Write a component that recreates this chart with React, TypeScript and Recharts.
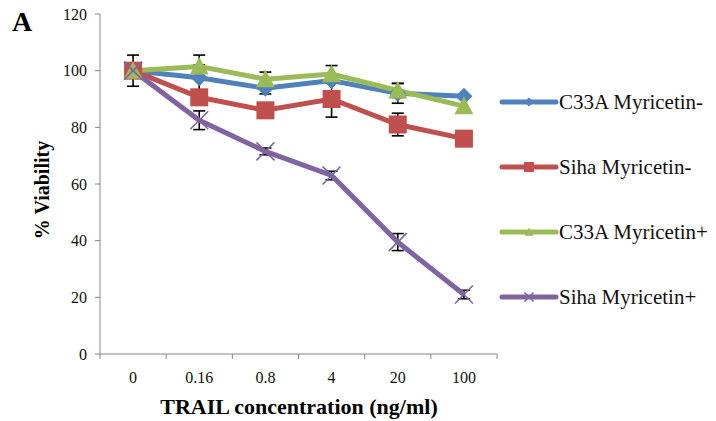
import React from 'react';
import { LineChart, Line, XAxis, YAxis, ErrorBar, Legend } from 'recharts';

const concentrations = ['0', '0.16', '0.8', '4', '20', '100'];

const c33aMinus = [100, 97.5, 93.8, 96.5, 92, 91];
const sihaMinus = [100, 90.6, 86, 90, 81, 76];
const c33aPlus = [100, 101.5, 97, 98.8, 93, 87.5];
const sihaPlus = [100, 82.5, 71.5, 63, 39.5, 21];

const c33aMinusErr = [5.5, 4.5, 2, null, 3.5, null];
const sihaMinusErr = [null, 2, null, 6.4, 4, null];
const c33aPlusErr = [null, 4, 2.5, 3, 2.5, null];
const sihaPlusErr = [null, 3.3, 1.2, 1.5, 3, 1.5];

const yTicks = [0, 20, 40, 60, 80, 100, 120];

const BLUE = '#4F81BD';
const RED = '#C0504D';
const GREEN = '#9BBB59';
const PURPLE = '#8064A2';
const AXIS = '#868686';
const FONT = "'Liberation Serif', 'Times New Roman', serif";

const PLOT_LEFT = 100;
const PLOT_RIGHT = 497;
const BAND = (PLOT_RIGHT - PLOT_LEFT) / concentrations.length;

const data = concentrations.map((c, i) => ({
  conc: c,
  c33aMinus: c33aMinus[i],
  sihaMinus: sihaMinus[i],
  c33aPlus: c33aPlus[i],
  sihaPlus: sihaPlus[i],
  c33aMinusErr: c33aMinusErr[i],
  sihaMinusErr: sihaMinusErr[i],
  c33aPlusErr: c33aPlusErr[i],
  sihaPlusErr: sihaPlusErr[i],
}));

// marker shapes
function diamond(cx: number, cy: number, r: number, fill: string, key?: any) {
  return (
    <polygon
      key={key}
      points={`${cx},${cy - r} ${cx + r},${cy} ${cx},${cy + r} ${cx - r},${cy}`}
      fill={fill}
    />
  );
}

function square(cx: number, cy: number, r: number, fill: string, key?: any) {
  return <rect key={key} x={cx - r} y={cy - r} width={r * 2} height={r * 2} fill={fill} />;
}

function triangle(cx: number, cy: number, r: number, fill: string, key?: any) {
  return (
    <polygon
      key={key}
      points={`${cx},${cy - r} ${cx + r},${cy + r * 0.85} ${cx - r},${cy + r * 0.85}`}
      fill={fill}
    />
  );
}

function cross(cx: number, cy: number, r: number, stroke: string, key?: any) {
  return (
    <g key={key}>
      <line x1={cx - r} y1={cy - r} x2={cx + r} y2={cy + r} stroke={stroke} strokeWidth={1.6} />
      <line x1={cx - r} y1={cy + r} x2={cx + r} y2={cy - r} stroke={stroke} strokeWidth={1.6} />
    </g>
  );
}

const series = [
  { key: 'c33aMinus', err: 'c33aMinusErr', name: 'C33A Myricetin-', color: BLUE, shape: diamond, size: 8.5, legendSize: 4.5 },
  { key: 'sihaMinus', err: 'sihaMinusErr', name: 'Siha Myricetin-', color: RED, shape: square, size: 9, legendSize: 5 },
  { key: 'c33aPlus', err: 'c33aPlusErr', name: 'C33A Myricetin+', color: GREEN, shape: triangle, size: 9.5, legendSize: 4.5 },
  { key: 'sihaPlus', err: 'sihaPlusErr', name: 'Siha Myricetin+', color: PURPLE, shape: cross, size: 9, legendSize: 4.5 },
];

const XTick = (props: any) => {
  const { x, y, payload, index } = props;
  const last = index === concentrations.length - 1;
  return (
    <g>
      <line x1={x - BAND / 2} x2={x - BAND / 2} y1={y} y2={y + 5} stroke={AXIS} strokeWidth={1} />
      {last && <line x1={x + BAND / 2} x2={x + BAND / 2} y1={y} y2={y + 5} stroke={AXIS} strokeWidth={1} />}
      <text x={x} y={y + 29} textAnchor="middle" style={{ fontFamily: FONT, fontSize: 16 }} fill="#111">
        {payload.value}
      </text>
    </g>
  );
};

const LegendContent = () => (
  <svg width={218} height={260}>
    {series.map((s, i) => {
      const cy = 22 + i * 65;
      return (
        <g key={s.key}>
          <line x1={4} x2={58} y1={cy} y2={cy} stroke={s.color} strokeWidth={5} strokeLinecap="round" />
          {s.shape(31, cy, s.legendSize, s.color)}
          <text x={61} y={cy + 7} style={{ fontFamily: FONT, fontSize: 21 }} fill="#111">
            {s.name}
          </text>
        </g>
      );
    })}
  </svg>
);

export default function App() {
  return (
    <div style={{ position: 'absolute', left: 0, top: 0, width: 716, height: 421, background: '#fff' }}>
      <div
        style={{
          position: 'absolute',
          left: 12,
          top: 6,
          fontFamily: FONT,
          fontWeight: 'bold',
          fontSize: 28,
          lineHeight: '32px',
          color: '#000',
          zIndex: 2,
        }}
      >
        A
      </div>
      <LineChart
        width={716}
        height={421}
        data={data}
        margin={{ top: 14, right: 716 - PLOT_RIGHT, bottom: 0, left: 0 }}
      >
        <XAxis
          dataKey="conc"
          height={67}
          stroke={AXIS}
          padding={{ left: BAND / 2, right: BAND / 2 }}
          tickLine={false}
          tickSize={0}
          tickMargin={0}
          tick={<XTick />}
          interval={0}
          label={() => (
            <text x={299} y={414} textAnchor="middle" style={{ fontFamily: FONT, fontSize: 22, fontWeight: 'bold' }} fill="#000">
              TRAIL concentration (ng/ml)
            </text>
          )}
        />
        <YAxis
          width={PLOT_LEFT}
          domain={[0, 120]}
          ticks={yTicks}
          interval={0}
          stroke={AXIS}
          tickSize={5}
          tickMargin={8}
          tick={{ fontFamily: FONT, fontSize: 16, fill: '#111', style: { fontFamily: FONT } }}
          label={() => (
            <text
              x={49}
              y={190}
              transform="rotate(-90 49 190)"
              textAnchor="middle"
              style={{ fontFamily: FONT, fontSize: 20, fontWeight: 'bold' }}
              fill="#000"
            >
              % Viability
            </text>
          )}
        />
        <Legend
          layout="vertical"
          align="center"
          verticalAlign="middle"
          content={<LegendContent />}
          wrapperStyle={{ position: 'absolute', left: 498, top: 80, width: 218, height: 260 }}
        />
        {series.map((s) => (
          <Line
            key={s.key}
            type="linear"
            dataKey={s.key}
            name={s.name}
            stroke={s.color}
            strokeWidth={5}
            isAnimationActive={false}
            dot={(p: any) => s.shape(p.cx, p.cy, s.size, s.color, `${s.key}-${p.index}`)}
            activeDot={false}
          >
            <ErrorBar dataKey={s.err} direction="y" width={6} stroke="#000" strokeWidth={1.6} />
          </Line>
        ))}
      </LineChart>
    </div>
  );
}
